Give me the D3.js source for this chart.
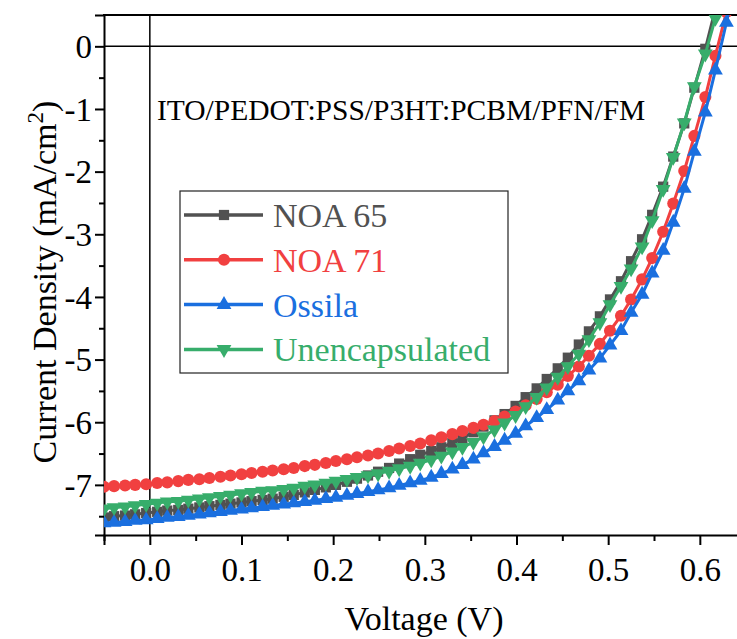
<!DOCTYPE html>
<html>
<head>
<meta charset="utf-8">
<script src="https://cdn.jsdelivr.net/npm/d3@7"></script>
<style>
  body { margin: 0; background: #fff; }
  svg text { font-family: "Liberation Serif", "Times New Roman", serif; }
</style>
</head>
<body>
<div id="chart"></div>
<script>
// voltage sweep (V) shared by all four devices
var voltage = [-0.050, -0.039, -0.027, -0.016, -0.004, 0.008, 0.019, 0.031, 0.042, 0.054,
  0.065, 0.077, 0.088, 0.100, 0.111, 0.123, 0.134, 0.146, 0.157, 0.169,
  0.180, 0.192, 0.203, 0.215, 0.226, 0.238, 0.249, 0.261, 0.272, 0.284,
  0.295, 0.307, 0.318, 0.330, 0.341, 0.353, 0.364, 0.376, 0.387, 0.399,
  0.410, 0.422, 0.433, 0.445, 0.456, 0.468, 0.479, 0.491, 0.502, 0.514,
  0.525, 0.537, 0.548, 0.560, 0.571, 0.583, 0.594, 0.606, 0.617, 0.629, 0.640];

// current density (mA/cm2)
var noa65 = [-7.52, -7.50, -7.49, -7.47, -7.45, -7.43, -7.41, -7.40, -7.38, -7.36,
  -7.34, -7.32, -7.30, -7.28, -7.26, -7.24, -7.22, -7.19, -7.16, -7.12,
  -7.08, -7.04, -7.00, -6.95, -6.90, -6.85, -6.79, -6.73, -6.66, -6.59,
  -6.52, -6.46, -6.40, -6.33, -6.25, -6.16, -6.07, -5.97, -5.87, -5.74,
  -5.60, -5.46, -5.31, -5.14, -4.97, -4.76, -4.55, -4.31, -4.04, -3.75,
  -3.43, -3.08, -2.69, -2.24, -1.76, -1.23, -0.66, -0.04, 0.60, 1.25, 1.90];

var noa71 = [-7.03, -7.02, -7.01, -7.00, -6.99, -6.97, -6.96, -6.94, -6.92, -6.91,
  -6.89, -6.87, -6.85, -6.83, -6.81, -6.79, -6.77, -6.75, -6.73, -6.70,
  -6.68, -6.65, -6.62, -6.59, -6.56, -6.53, -6.50, -6.46, -6.42, -6.38,
  -6.34, -6.29, -6.24, -6.19, -6.14, -6.09, -6.04, -5.98, -5.91, -5.83,
  -5.73, -5.63, -5.52, -5.40, -5.26, -5.11, -4.94, -4.75, -4.54, -4.30,
  -4.04, -3.72, -3.38, -2.96, -2.51, -1.99, -1.43, -0.81, -0.15, 0.55, 1.28];

var ossila = [-7.61, -7.60, -7.59, -7.57, -7.56, -7.54, -7.52, -7.51, -7.49, -7.47,
  -7.45, -7.43, -7.41, -7.39, -7.37, -7.35, -7.33, -7.31, -7.29, -7.27,
  -7.25, -7.22, -7.20, -7.17, -7.14, -7.11, -7.08, -7.05, -7.01, -6.97,
  -6.93, -6.88, -6.82, -6.75, -6.68, -6.59, -6.49, -6.39, -6.29, -6.18,
  -6.06, -5.93, -5.80, -5.65, -5.50, -5.34, -5.17, -4.98, -4.77, -4.54,
  -4.25, -3.96, -3.62, -3.26, -2.81, -2.27, -1.68, -1.05, -0.38, 0.38, 1.15];

var unencap = [-7.38, -7.36, -7.35, -7.33, -7.31, -7.29, -7.27, -7.26, -7.24, -7.22,
  -7.20, -7.18, -7.16, -7.14, -7.12, -7.10, -7.09, -7.07, -7.05, -7.02,
  -7.00, -6.97, -6.94, -6.91, -6.88, -6.85, -6.82, -6.78, -6.74, -6.70,
  -6.65, -6.60, -6.54, -6.47, -6.40, -6.32, -6.23, -6.12, -6.01, -5.89,
  -5.75, -5.60, -5.45, -5.28, -5.11, -4.91, -4.68, -4.41, -4.12, -3.83,
  -3.55, -3.20, -2.78, -2.28, -1.77, -1.22, -0.64, -0.12, 0.45, 1.10, 1.80];

var seriesNames = ['NOA 65', 'NOA 71', 'Ossila', 'Unencapsulated'];
var seriesColors = ['#515151', '#F14040', '#1A6FDF', '#37AD6B'];
var xTicks = [0.0, 0.1, 0.2, 0.3, 0.4, 0.5, 0.6];
var yTicks = [-7, -6, -5, -4, -3, -2, -1, 0];

var width = 737, height = 639;
var plotLeft = 104, plotRight = 742, plotTop = 15, plotBottom = 535;

var svg = d3.select('#chart').append('svg')
  .attr('width', width)
  .attr('height', height);

var x = d3.scaleLinear().domain([-0.05, 0.646]).range([plotLeft, plotRight]);
var y = d3.scaleLinear().domain([-7.8, 0.5]).range([plotBottom, plotTop]);

svg.append('clipPath').attr('id', 'clip')
  .append('rect')
  .attr('x', plotLeft).attr('y', plotTop)
  .attr('width', plotRight - plotLeft).attr('height', plotBottom - plotTop);

// zero lines
svg.append('line')
  .attr('x1', plotLeft).attr('x2', plotRight)
  .attr('y1', y(0)).attr('y2', y(0))
  .attr('stroke', '#000').attr('stroke-width', 1.5);
svg.append('line')
  .attr('x1', x(0)).attr('x2', x(0))
  .attr('y1', plotTop).attr('y2', plotBottom)
  .attr('stroke', '#000').attr('stroke-width', 1.5);

// top frame
svg.append('line')
  .attr('x1', plotLeft - 1).attr('x2', plotRight)
  .attr('y1', plotTop).attr('y2', plotTop)
  .attr('stroke', '#000').attr('stroke-width', 2);

// minor ticks first, majors with labels on top
var xMinor = [-0.05, 0.05, 0.15, 0.25, 0.35, 0.45, 0.55];
svg.append('g')
  .attr('transform', 'translate(0,' + plotBottom + ')')
  .call(d3.axisBottom(x).tickValues(xMinor).tickSize(6).tickFormat(''))
  .call(function(g) { g.select('.domain').remove(); });

var xAxis = svg.append('g')
  .attr('transform', 'translate(0,' + plotBottom + ')')
  .call(d3.axisBottom(x).tickValues(xTicks).tickSize(10).tickPadding(13)
    .tickFormat(d3.format('.1f')));

var yMinor = [-7.5, -6.5, -5.5, -4.5, -3.5, -2.5, -1.5, -0.5];
svg.append('g')
  .attr('transform', 'translate(' + plotLeft + ',0)')
  .call(d3.axisLeft(y).tickValues(yMinor).tickSize(5).tickFormat(''))
  .call(function(g) { g.select('.domain').remove(); });

var yAxis = svg.append('g')
  .attr('transform', 'translate(' + plotLeft + ',0)')
  .call(d3.axisLeft(y).tickValues(yTicks).tickSize(9).tickPadding(3)
    .tickFormat(function(d) { return String(d); }));

svg.selectAll('.tick line').attr('stroke', '#000').attr('stroke-width', 2);
svg.selectAll('.domain').attr('stroke', '#000').attr('stroke-width', 2);
svg.selectAll('.tick text')
  .attr('fill', '#000')
  .style('font-size', '33px');
xAxis.selectAll('.tick text').attr('dy', '0.71em');
yAxis.selectAll('.tick text').attr('dy', '0.34em');

// axis titles
svg.append('text')
  .attr('x', 424).attr('y', 630)
  .attr('text-anchor', 'middle')
  .style('font-size', '34px')
  .text('Voltage (V)');

var yTitle = svg.append('text')
  .attr('transform', 'translate(56,282) rotate(-90)')
  .attr('text-anchor', 'middle')
  .style('font-size', '34px');
yTitle.append('tspan').text('Current Density (mA/cm');
yTitle.append('tspan').attr('dy', -13).style('font-size', '23px').text('2');
yTitle.append('tspan').attr('dy', 13).text(')');

svg.append('text')
  .attr('x', 157).attr('y', 120)
  .style('font-size', '29.5px')
  .text('ITO/PEDOT:PSS/P3HT:PCBM/PFN/FM');

// curves
var symbols = [
  d3.symbol().type(d3.symbolSquare).size(105),
  d3.symbol().type(d3.symbolCircle).size(115),
  d3.symbol().type(d3.symbolTriangle).size(95),
  d3.symbol().type(d3.symbolTriangle).size(95)
];
var rotations = [0, 0, 0, 180];
var allSeries = [noa65, noa71, ossila, unencap];

var line = d3.line()
  .x(function(d) { return x(d[0]); })
  .y(function(d) { return y(d[1]); });

var plot = svg.append('g').attr('clip-path', 'url(#clip)');

allSeries.forEach(function(vals, i) {
  var pts = voltage.map(function(v, k) { return [v, vals[k]]; });
  var g = plot.append('g');
  g.append('path')
    .datum(pts)
    .attr('fill', 'none')
    .attr('stroke', seriesColors[i])
    .attr('stroke-width', 3)
    .attr('d', line);
  g.selectAll('path.mk')
    .data(pts)
    .enter().append('path')
    .attr('class', 'mk')
    .attr('fill', seriesColors[i])
    .attr('d', symbols[i])
    .attr('transform', function(d) {
      return 'translate(' + x(d[0]) + ',' + y(d[1]) + ') rotate(' + rotations[i] + ')';
    });
});

// legend
var legend = svg.append('g');
legend.append('rect')
  .attr('x', 180).attr('y', 191)
  .attr('width', 328).attr('height', 182)
  .attr('fill', '#fff')
  .attr('stroke', '#222')
  .attr('stroke-width', 1.2);

seriesNames.forEach(function(name, i) {
  var cy = 215 + i * 44.8;
  legend.append('line')
    .attr('x1', 184).attr('x2', 263)
    .attr('y1', cy).attr('y2', cy)
    .attr('stroke', seriesColors[i])
    .attr('stroke-width', 3.5);
  legend.append('path')
    .attr('d', symbols[i])
    .attr('fill', seriesColors[i])
    .attr('transform', 'translate(224,' + cy + ') rotate(' + rotations[i] + ')');
  legend.append('text')
    .attr('x', 273).attr('y', cy + 12)
    .attr('fill', seriesColors[i])
    .style('font-size', '34px')
    .text(name);
});
</script>
</body>
</html>
